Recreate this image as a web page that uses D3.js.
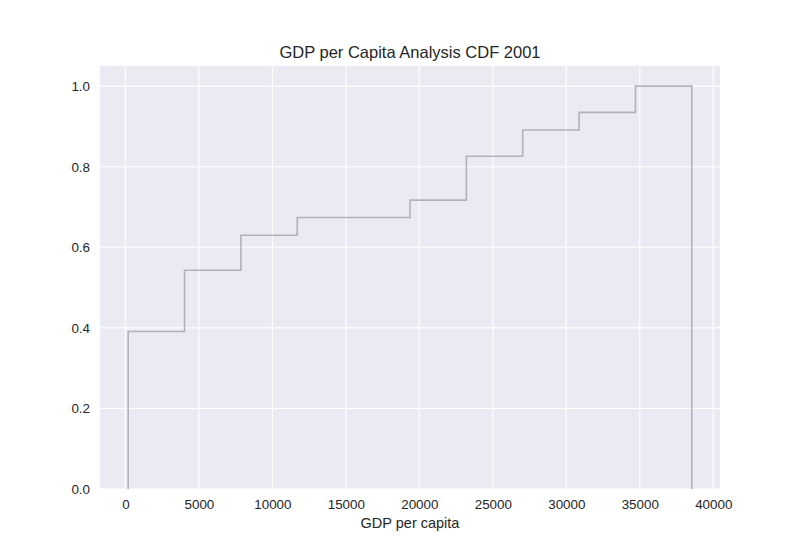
<!DOCTYPE html>
<html>
<head>
<meta charset="utf-8">
<script src="https://cdn.jsdelivr.net/npm/d3@7"></script>
<style>
  body { margin: 0; background: #fff; }
  svg text { font-family: "Liberation Sans", Arial, sans-serif; fill: #262626; }
</style>
</head>
<body>
<div id="canvas"></div>
<script>
// bin edges of the cumulative histogram (GDP per capita)
const binEdges = [190, 4025, 7860, 11695, 15530, 19365, 23200, 27035, 30870, 34705, 38540];
// cumulative share at the end of each bin
const cumShare = [0.391, 0.543, 0.630, 0.674, 0.674, 0.717, 0.826, 0.891, 0.935, 1.0];
const xTicks = [0, 5000, 10000, 15000, 20000, 25000, 30000, 35000, 40000];
const yTicks = [0, 0.2, 0.4, 0.6, 0.8, 1.0];

const width = 800;
const height = 550;
const margin = { top: 66, left: 100, bottom: 61, right: 80 };
const iwidth = width - margin.left - margin.right;
const iheight = height - margin.top - margin.bottom;

const svg = d3.select("#canvas").append("svg")
  .attr("width", width)
  .attr("height", height);

// 5% padding on each side like matplotlib
const span = binEdges[binEdges.length - 1] - binEdges[0];
const x = d3.scaleLinear()
  .domain([binEdges[0] - span * 0.05, binEdges[binEdges.length - 1] + span * 0.05])
  .range([0, iwidth]);
const y = d3.scaleLinear().domain([0, 1.05]).range([iheight, 0]);

const g = svg.append("g")
  .attr("transform", `translate(${margin.left}, ${margin.top})`);

g.append("rect")
  .attr("width", iwidth)
  .attr("height", iheight)
  .attr("fill", "#eaeaf2");

// grid
g.selectAll(".xgrid").data(xTicks).enter().append("line")
  .attr("x1", (d) => x(d)).attr("x2", (d) => x(d))
  .attr("y1", 0).attr("y2", iheight)
  .attr("stroke", "#fff").attr("stroke-width", 1.1);
g.selectAll(".ygrid").data(yTicks).enter().append("line")
  .attr("y1", (d) => y(d)).attr("y2", (d) => y(d))
  .attr("x1", 0).attr("x2", iwidth)
  .attr("stroke", "#fff").attr("stroke-width", 1.1);

// step path
const pts = [[binEdges[0], 0]];
cumShare.forEach((v, i) => {
  pts.push([binEdges[i], v]);
  pts.push([binEdges[i + 1], v]);
});
pts.push([binEdges[binEdges.length - 1], 0]);

g.append("path")
  .datum(pts)
  .attr("fill", "none")
  .attr("stroke", "#b2b2b6")
  .attr("stroke-width", 1.6)
  .attr("d", d3.line().x((d) => x(d[0])).y((d) => y(d[1])));

// axes
const xAxis = g.append("g")
  .attr("transform", `translate(0, ${iheight})`)
  .call(d3.axisBottom(x).tickValues(xTicks).tickSize(0).tickPadding(10).tickFormat(d3.format("d")));
const yAxis = g.append("g")
  .call(d3.axisLeft(y).tickValues(yTicks).tickSize(0).tickPadding(10).tickFormat(d3.format(".1f")));
[xAxis, yAxis].forEach((a) => {
  a.select(".domain").remove();
  a.selectAll("text").attr("font-size", 13.4).attr("font-family", "Liberation Sans, Arial, sans-serif").attr("fill", "#262626");
});

svg.append("text")
  .attr("x", margin.left + iwidth / 2)
  .attr("y", 528)
  .attr("text-anchor", "middle")
  .attr("font-size", 14.5)
  .text("GDP per capita");

svg.append("text")
  .attr("x", margin.left + iwidth / 2)
  .attr("y", 57.7)
  .attr("text-anchor", "middle")
  .attr("font-size", 16.5)
  .text("GDP per Capita Analysis CDF 2001");
</script>
</body>
</html>
